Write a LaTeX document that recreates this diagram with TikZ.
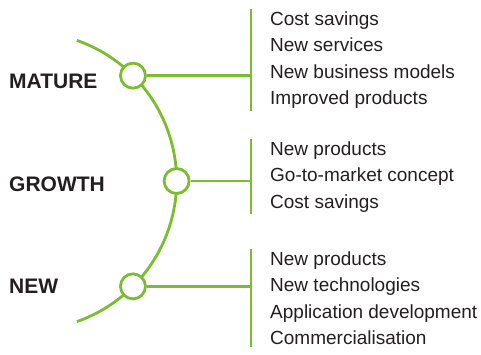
\documentclass[tikz,border=0pt]{standalone}
\usepackage{fontspec}
\setmainfont{Liberation Sans}
\usetikzlibrary{positioning,calc}
\definecolor{leaf}{HTML}{7ABD30}
\definecolor{ink}{HTML}{231F20}
\begin{document}
\begin{tikzpicture}[x=1pt, y=-1pt,
    stage/.style={font=\fontsize{21}{21}\selectfont\bfseries, text=ink, inner sep=0pt, anchor=base west},
    list/.style={font=\fontsize{19}{26.5}\selectfont, text=ink, align=left, inner xsep=0pt, inner ysep=2pt, anchor=base west},
    ring/.style={circle, draw=leaf, line width=2.8pt, fill=white, minimum size=25pt, inner sep=0pt},
    link/.style={draw=leaf, line width=2.8pt}]
  \useasboundingbox (0,0) rectangle (481,354);
  \coordinate (hub) at (27.6,181);
  % lifecycle arc
  \draw[link] ($(hub)+(-70.7:149)$) arc[start angle=-70.7, end angle=70.7, radius=149];
  \node[ring] (mature) at ($(hub)+(-45:149)$) {};
  \node[ring] (growth) at ($(hub)+(0:149)$) {};
  \node[ring] (new) at ($(hub)+(45:149)$) {};
  % stage labels
  \node[stage] (maturelbl) at (9,88) {MATURE};
  \node[stage] (growthlbl) at (9,191) {GROWTH};
  \node[stage] (newlbl) at (9,293) {NEW};
  % benefit lists (base = last line)
  \node[list] (maturelist) at (270,104.5) {Cost savings\\New services\\New business models\\Improved products};
  \node[list] (growthlist) at (270,208) {New products\\Go-to-market concept\\Cost savings};
  \node[list] (newlist) at (270,344.5) {New products\\New technologies\\Application development\\Commercialisation};
  \coordinate (maturebar) at ([xshift=-19pt]maturelist.west);
  \coordinate (growthbar) at ([xshift=-19pt]growthlist.west);
  \coordinate (newbar) at ([xshift=-19pt]newlist.west);
  % brackets and links
  \draw[link] ([xshift=-19pt]maturelist.north west) -- ([xshift=-19pt]maturelist.south west);
  \draw[link] ([xshift=-19pt]growthlist.north west) -- ([xshift=-19pt]growthlist.south west);
  \draw[link] ([xshift=-19pt]newlist.north west) -- ([xshift=-19pt]newlist.south west);
  \draw[link] (mature.east) -- (mature.east -| maturebar);
  \draw[link] (growth.east) -- (growth.east -| growthbar);
  \draw[link] (new.east) -- (new.east -| newbar);
\end{tikzpicture}
\end{document}
